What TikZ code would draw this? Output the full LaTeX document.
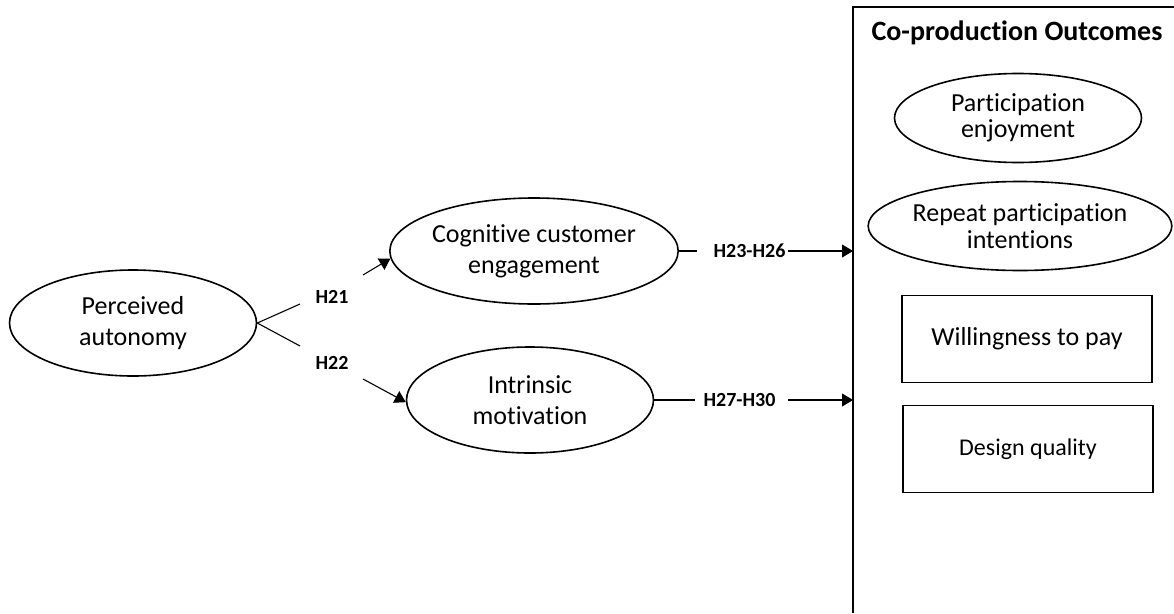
\documentclass[tikz,border=0pt]{standalone}
\usepackage{fontspec}
\setmainfont{Carlito}[Ligatures=NoCommon,RawFeature={-liga;-clig;-dlig}]
\usetikzlibrary{arrows.meta,shapes.geometric}
\begin{document}
\begin{tikzpicture}[x=1pt,y=-1pt,
  ell/.style={draw,ellipse,line width=1.6pt,inner sep=0pt,align=center,
    minimum width=247pt,minimum height=106pt,
    font=\fontsize{26}{31}\selectfont},
  rell/.style={ell,minimum height=89pt,font=\fontsize{26}{26.5}\selectfont},
  rbox/.style={draw,rectangle,line width=1.4pt,inner sep=0pt,align=center,
    minimum width=250pt,minimum height=87pt,font=\fontsize{26}{30}\selectfont},
  hlab/.style={font=\fontsize{20}{24}\selectfont\bfseries,inner sep=0pt},
  conn/.style={line width=1.1pt},
  arr/.style={line width=1.1pt,-{Triangle[length=11pt,width=13pt]}},
]
\useasboundingbox (0,0) rectangle (1174,613);
\fill[white] (0,0) rectangle (1174,613);

% frame of outcomes
\draw[line width=1.6pt,line join=miter] (1174,7) -- (853,7) -- (853,613);
\node[font=\fontsize{28}{32}\selectfont\bfseries] (title) at (1017,33) {Co-production Outcomes};

% nodes
\node[ell] (pa) at (133,323) {Perceived\\autonomy};
\node[ell] (cce) at (534,251) {Cognitive customer\\engagement};
\node[ell] (im) at (530,400) {Intrinsic\\motivation};
\node[rell] (pe) at (1018,118) {Participation\\enjoyment};
\node[rell] (rpi) at (1020,226) {Repeat participation\\intentions};
\node[rbox] (wtp) at (1027,339) {Willingness to pay};
\node[rbox,font=\fontsize{24}{28}\selectfont] (dq) at (1028,449) {Design quality};

% coordinates of free ends
\coordinate (h21a) at (300,304);
\coordinate (h21b) at (363,275);
\coordinate (h22a) at (300,346);
\coordinate (h22b) at (363,379);
\coordinate (h23a) at (697,251);
\coordinate (h23b) at (788,251);
\coordinate (fr1) at (853,251);
\coordinate (h27a) at (695,400);
\coordinate (h27b) at (788,400);
\coordinate (fr2) at (853,400);

% labels
\node[hlab] (h21) at (332,297) {H21};
\node[hlab] (h22) at (332,363) {H22};
\node[hlab] (h23) at (749.5,251) {H23-H26};
\node[hlab] (h27) at (739.5,400) {H27-H30};

% connectors
\draw[conn] (pa.east) -- (h21a);
\draw[arr] (h21b) -- (cce.183);
\draw[conn] (pa.east) -- (h22a);
\draw[arr] (h22b) -- (im.181);
\draw[conn] (cce.east) -- (h23a);
\draw[arr] (h23b) -- (fr1);
\draw[conn] (im.east) -- (h27a);
\draw[arr] (h27b) -- (fr2);
\end{tikzpicture}
\end{document}
